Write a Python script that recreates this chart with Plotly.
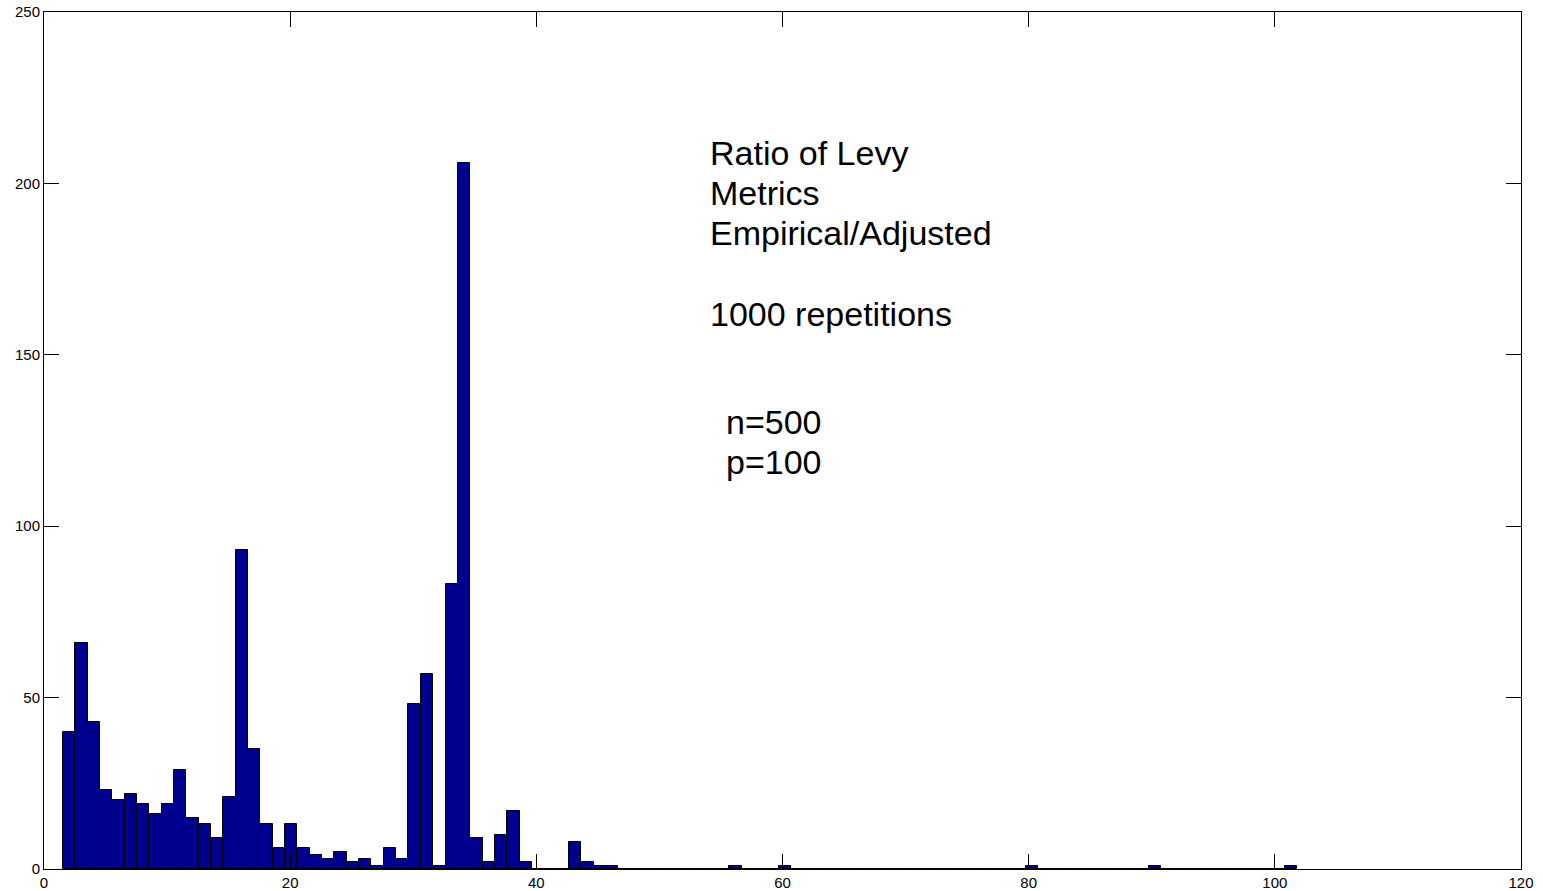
import numpy as np
import plotly.graph_objects as go

# Histogram of ratio of Levy metrics (100 bins), 1000 repetitions
bin_start = 1.54
bin_width = 1.0026
counts = [40, 66, 43, 23, 20, 22, 19, 16, 19, 29,
          15, 13, 9, 21, 93, 35, 13, 6, 13, 6,
          4, 3, 5, 2, 3, 1, 6, 3, 48, 57,
          1, 83, 206, 9, 2, 10, 17, 2, 0, 0,
          0, 8, 2, 1, 1, 0, 0, 0, 0, 0,
          0, 0, 0, 0, 1, 0, 0, 0, 1, 0,
          0, 0, 0, 0, 0, 0, 0, 0, 0, 0,
          0, 0, 0, 0, 0, 0, 0, 0, 1, 0,
          0, 0, 0, 0, 0, 0, 0, 0, 1, 0,
          0, 0, 0, 0, 0, 0, 0, 0, 0, 1]
x_ticks = [0, 20, 40, 60, 80, 100, 120]
y_ticks = [0, 50, 100, 150, 200, 250]
text_block1 = ["Ratio of Levy", "Metrics", "Empirical/Adjusted", "", "1000 repetitions"]
text_block2 = ["n=500", "p=100"]

centers = bin_start + (np.arange(len(counts)) + 0.5) * bin_width

fig = go.Figure()
fig.add_trace(go.Bar(
    x=centers, y=counts, width=bin_width,
    marker=dict(color="rgb(0,0,143)", line=dict(color="black", width=1)),
    hoverinfo="x+y",
))

font = "Liberation Sans, Arial, Helvetica, sans-serif"
axis_common = dict(
    showgrid=False, zeroline=False, showline=True, linecolor="black", linewidth=1,
    mirror="allticks", ticks="inside", ticklen=15, tickcolor="black", tickwidth=1,
    tickfont=dict(family=font, size=15, color="black"), automargin=False,
)
fig.update_xaxes(range=[0, 120], tickvals=x_ticks, **axis_common)
fig.update_yaxes(range=[0, 250], tickvals=y_ticks, **axis_common)

# text lines, positioned line by line (MATLAB-like line spacing)
line_step = 11.8  # in y data units
y0_block1 = 209.0
for i, line in enumerate(text_block1):
    if not line:
        continue
    fig.add_annotation(
        x=53.95, y=y0_block1 - i * line_step, xref="x", yref="y",
        xanchor="left", yanchor="middle", text=line, showarrow=False, align="left",
        font=dict(family=font, size=34, color="black"),
    )
y0_block2 = 130.5
for i, line in enumerate(text_block2):
    fig.add_annotation(
        x=55.25, y=y0_block2 - i * line_step, xref="x", yref="y",
        xanchor="left", yanchor="middle", text=line, showarrow=False, align="left",
        font=dict(family=font, size=34, color="black"),
    )

fig.update_layout(
    width=1543, height=891, autosize=False,
    margin=dict(l=44, r=22, t=12, b=22),
    paper_bgcolor="white", plot_bgcolor="white",
    showlegend=False, bargap=0,
    font=dict(family=font, color="black"),
)

fig.write_html("out.html")
